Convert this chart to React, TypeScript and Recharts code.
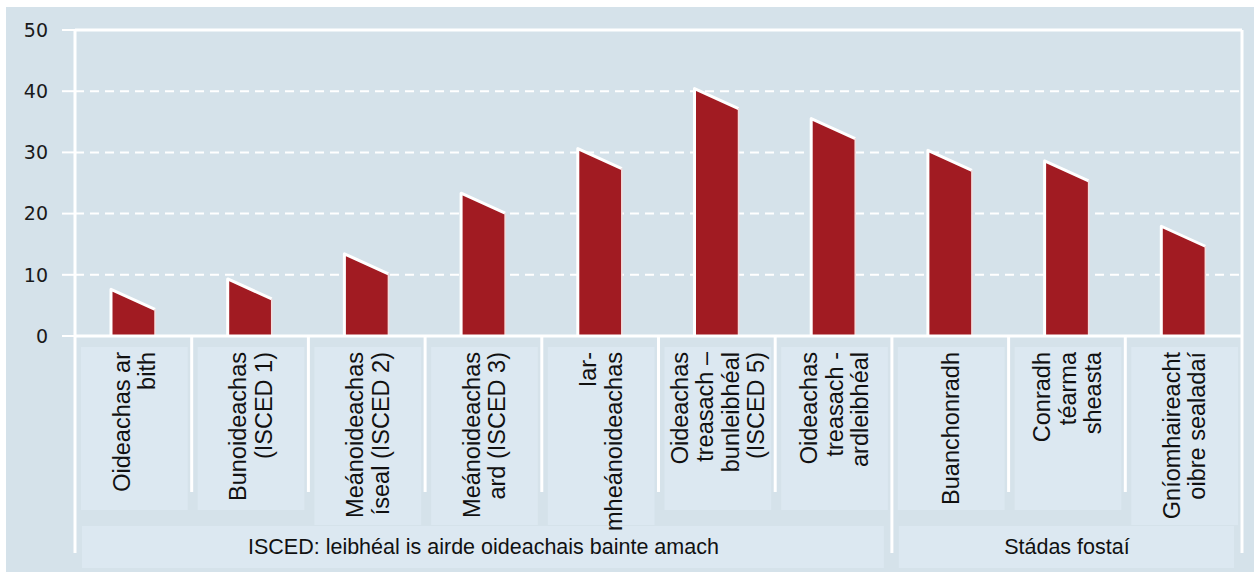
import React from 'react';
import { Bar, BarChart, CartesianGrid, ReferenceLine, XAxis, YAxis } from 'recharts';

// category labels (one entry per line) and values
const categoryLines: string[][] = [
  ['Oideachas ar', 'bith'],
  ['Bunoideachas', '(ISCED 1)'],
  ['Meánoideachas', 'íseal (ISCED 2)'],
  ['Meánoideachas', 'ard (ISCED 3)'],
  ['Iar-', 'mheánoideachas'],
  ['Oideachas', 'treasach –', 'bunleibhéal', '(ISCED 5)'],
  ['Oideachas', 'treasach -', 'ardleibhéal'],
  ['Buanchonradh'],
  ['Conradh', 'téarma', 'sheasta'],
  ['Gníomhaireacht', 'oibre sealadaí'],
];
const values = [6.0, 7.7, 11.8, 21.7, 29.0, 38.8, 33.9, 28.7, 27.0, 16.3];
const yTicks = [0, 10, 20, 30, 40, 50];
const groupNames = ['ISCED: leibhéal is airde oideachais bainte amach', 'Stádas fostaí'];
const groupSizes = [7, 3];

const data = categoryLines.map((lines, i) => ({ name: lines.join(' '), value: values[i] }));

const W = 1254;
const H = 572;
const TOP = 30;
const LEFT = 75;
const RIGHT_W = 12;
const X_AXIS_H = 236;
const PLOT_W = W - LEFT - RIGHT_W;
const BAND = PLOT_W / categoryLines.length;
const AXIS_Y = H - X_AXIS_H;

const BG = '#d5e2ea';
const BOX = '#dce8f1';
const RED = '#a11b22';
const FONT = '"Liberation Sans", Arial, sans-serif';

const SlantBar = (props: any) => {
  const { x, y, width, height } = props;
  const s = 10;
  const base = y + height;
  const pts = `${x},${base} ${x},${y - s} ${x + width},${y + s} ${x + width},${base}`;
  return (
    <g>
      <polygon points={pts} fill={RED} />
      <polyline points={`${x},${base} ${x},${y - s} ${x + width},${y + s}`} fill="none" stroke="#fff" strokeWidth={3} strokeLinejoin="round" />
      <line x1={x + width} y1={y + s} x2={x + width} y2={base} stroke="#f4dede" strokeWidth={1.5} />
    </g>
  );
};

const groupStarts = groupSizes.map((_, g) => groupSizes.slice(0, g).reduce((a, b) => a + b, 0));

const CategoryTick = (props: any) => {
  const { x, index } = props;
  const lines = categoryLines[index];
  const left = x - BAND / 2;
  const right = x + BAND / 2;
  const tall = Math.max(...lines.map((l) => l.length)) >= 13;
  const boxTop = AXIS_Y + 11;
  const boxBottom = tall ? AXIS_Y + 189 : AXIS_Y + 174;
  const lineH = 25.5;
  const g = groupStarts.indexOf(index);
  const isLast = index === categoryLines.length - 1;
  return (
    <g>
      <rect x={left + 6} y={boxTop} width={BAND - 10} height={boxBottom - boxTop} fill={BOX} />
      <line x1={left} y1={AXIS_Y} x2={left} y2={g >= 0 ? AXIS_Y + 217 : AXIS_Y + 156} stroke="#fff" strokeWidth={3} />
      {isLast && <line x1={right} y1={AXIS_Y} x2={right} y2={AXIS_Y + 217} stroke="#fff" strokeWidth={3} />}
      {lines.map((t, i) => {
        const px = x + (i - (lines.length - 1) / 2) * lineH + 1;
        const py = AXIS_Y + 16;
        return (
          <text
            key={i}
            x={px}
            y={py}
            transform={`rotate(-90, ${px}, ${py})`}
            textAnchor="end"
            dominantBaseline="central"
            fontFamily={FONT}
            fontSize={23.5}
            fill="#111"
          >
            {t}
          </text>
        );
      })}
      {g >= 0 && (
        <g>
          <rect x={left + 7} y={AXIS_Y + 190} width={BAND * groupSizes[g] - 15} height={42} fill={BOX} />
          <text
            x={left + (BAND * groupSizes[g]) / 2}
            y={AXIS_Y + 211}
            textAnchor="middle"
            dominantBaseline="central"
            fontFamily={FONT}
            fontSize={21.5}
            fill="#111"
          >
            {groupNames[g]}
          </text>
        </g>
      )}
    </g>
  );
};

export default function App() {
  return (
    <div style={{ position: 'relative', width: W, height: H, background: '#fff' }}>
      <style>{'body{margin:0}'}</style>
      <div style={{ position: 'absolute', left: 6, top: 7, right: 0, bottom: 0, background: BG }} />
      <div style={{ position: 'absolute', left: 0, top: 0 }}>
        <BarChart width={W} height={H} data={data} margin={{ top: TOP, right: 0, left: 0, bottom: 0 }} barCategoryGap={0}>
          <CartesianGrid vertical={false} stroke="#fff" strokeWidth={2} strokeDasharray="9 6" />
          <XAxis
            dataKey="name"
            height={X_AXIS_H}
            interval={0}
            tickLine={false}
            axisLine={{ stroke: '#fff', strokeWidth: 3 }}
            tick={<CategoryTick />}
          />
          <YAxis
            width={LEFT}
            domain={[0, 50]}
            ticks={yTicks}
            tickSize={13}
            tickMargin={14}
            tickLine={{ stroke: '#fff', strokeWidth: 2 }}
            axisLine={{ stroke: '#fff', strokeWidth: 3 }}
            tick={{ fontFamily: '"DejaVu Sans", Verdana, sans-serif', fontSize: 19, fill: '#1a1a1a' }}
          />
          <YAxis
            yAxisId="r"
            orientation="right"
            width={RIGHT_W}
            domain={[0, 50]}
            tick={false}
            tickLine={false}
            axisLine={{ stroke: '#fff', strokeWidth: 3 }}
          />
          <ReferenceLine y={50} stroke="#fff" strokeWidth={3} />
          <Bar dataKey="value" barSize={44} shape={<SlantBar />} isAnimationActive={false} />
        </BarChart>
      </div>
    </div>
  );
}
